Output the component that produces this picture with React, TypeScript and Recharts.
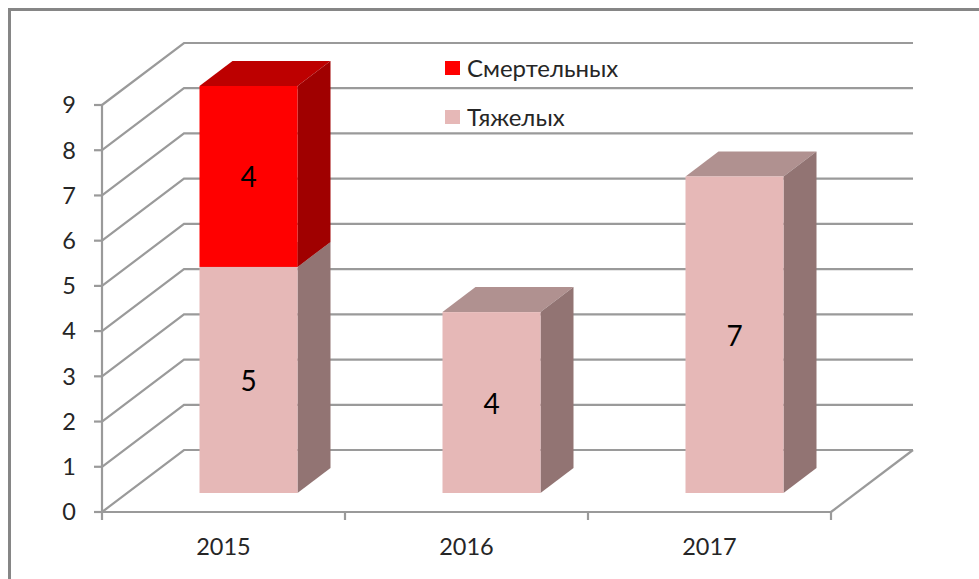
import { BarChart, Bar, XAxis, YAxis, CartesianGrid, LabelList, Legend } from 'recharts'

const years = ['2015', '2016', '2017']
const severe = [5, 4, 7]
const fatal = [4, null, null]
const yTicks = [0, 1, 2, 3, 4, 5, 6, 7, 8, 9]

const chartData = years.map((year, i) => ({ year, severe: severe[i], fatal: fatal[i] }))

const FONT = 'Lato, "Open Sans", sans-serif'
const LINE = '#9a9a9a'
// depth of the floor and of the bars
const WALL_DX = 82
const WALL_DY = -62
const BAR_DX = 33
const BAR_DY = -25
const BAR_SHIFT_X = 24.5
const BAR_SHIFT_Y = -19
const BAND = (831 - 102) / 3

const GridLine = ({ x1, x2, y1 }: any) => (
  <g stroke={LINE} strokeWidth={2.2} fill="none">
    <polyline points={`${x1},${y1} ${x1 + WALL_DX},${y1 + WALL_DY} ${x2 + WALL_DX},${y1 + WALL_DY}`} />
  </g>
)

const XTick = ({ x, y, payload, index }: any) => (
  <g>
    <line x1={x - BAND / 2} x2={x - BAND / 2} y1={y - 8} y2={y} stroke={LINE} strokeWidth={2.2} />
    {index === years.length - 1 && (
      <>
        <line x1={x + BAND / 2} x2={x + BAND / 2} y1={y - 8} y2={y} stroke={LINE} strokeWidth={2.2} />
        <line x1={x + BAND / 2} y1={y - 8} x2={x + BAND / 2 + WALL_DX} y2={y - 8 + WALL_DY} stroke={LINE} strokeWidth={2.2} />
      </>
    )}
    <text x={x} y={y + 35} textAnchor="middle" fontFamily={FONT} fontSize={23.5} fill="#262626">
      {payload.value}
    </text>
  </g>
)

const Box = ({ x, y, width, height, front, side, top }: any) => {
  if (!height || height <= 0) return null
  const l = x + BAR_SHIFT_X
  const t = y + BAR_SHIFT_Y
  const r = l + width
  const b = t + height
  return (
    <g>
      <polygon points={`${l},${t} ${r},${t} ${r + BAR_DX},${t + BAR_DY} ${l + BAR_DX},${t + BAR_DY}`} fill={top} />
      <polygon points={`${r},${t} ${r + BAR_DX},${t + BAR_DY} ${r + BAR_DX},${b + BAR_DY} ${r},${b}`} fill={side} />
      <rect x={l} y={t} width={width} height={height} fill={front} />
    </g>
  )
}

const BoxLabel = ({ x, y, width, height, value }: any) => {
  if (value == null) return null
  return (
    <text
      x={x + width / 2 + BAR_SHIFT_X}
      y={y + height / 2 + BAR_SHIFT_Y + 11}
      textAnchor="middle"
      fontFamily={FONT}
      fontSize={28}
      fill="#000"
    >
      {value}
    </text>
  )
}

const LegendBox = ({ payload }: any) => (
  <div style={{ fontFamily: FONT, fontSize: 24, color: '#262626' }}>
    {(payload ?? []).map((item: any) => (
      <div key={item.value} style={{ display: 'flex', alignItems: 'center', height: 49 }}>
        <span style={{ width: 15, height: 14, background: item.color, marginRight: 7 }} />
        {item.value}
      </div>
    ))}
  </div>
)

export default function App() {
  return (
    <div style={{ position: 'absolute', left: 0, top: 0, width: 979, height: 579, overflow: 'hidden', background: '#fff' }}>
      <div
        style={{
          position: 'absolute',
          left: 8,
          top: 8,
          width: 1000,
          height: 600,
          borderLeft: '3px solid #868686',
          borderTop: '3px solid #868686',
        }}
      />
      <BarChart
        width={979}
        height={579}
        data={chartData}
        margin={{ top: 105, right: 148, left: 0, bottom: 0 }}
        barSize={98}
        style={{ position: 'absolute', left: 0, top: 0 }}
      >
        <CartesianGrid horizontal={(props: any) => <GridLine key={props.key} {...props} />} vertical={false} />
        <XAxis
          dataKey="year"
          height={67}
          stroke={LINE}
          strokeWidth={2.2}
          tickLine={false}
          tick={<XTick />}
          interval={0}
        />
        <YAxis
          width={102}
          domain={[0, 9]}
          ticks={yTicks}
          interval={0}
          stroke={LINE}
          strokeWidth={2.2}
          tickSize={8}
          tickMargin={18}
          tick={{ fontFamily: FONT, fontSize: 23.5, fill: '#262626' }}
        />
        <Legend
          content={<LegendBox />}
          layout="vertical"
          verticalAlign="middle"
          align="center"
          wrapperStyle={{ left: 445, top: 43, width: 220 }}
        />
        <Bar
          dataKey="severe"
          name="Тяжелых"
          stackId="a"
          fill="#e6b8b7"
          isAnimationActive={false}
          shape={(props: any) => <Box {...props} front="#e6b8b7" side="#927473" top="#b09190" />}
        >
          <LabelList dataKey="severe" content={<BoxLabel />} />
        </Bar>
        <Bar
          dataKey="fatal"
          name="Смертельных"
          stackId="a"
          fill="#ff0000"
          isAnimationActive={false}
          shape={(props: any) => <Box {...props} front="#ff0000" side="#a00000" top="#bd0000" />}
        >
          <LabelList dataKey="fatal" content={<BoxLabel />} />
        </Bar>
      </BarChart>
    </div>
  )
}
